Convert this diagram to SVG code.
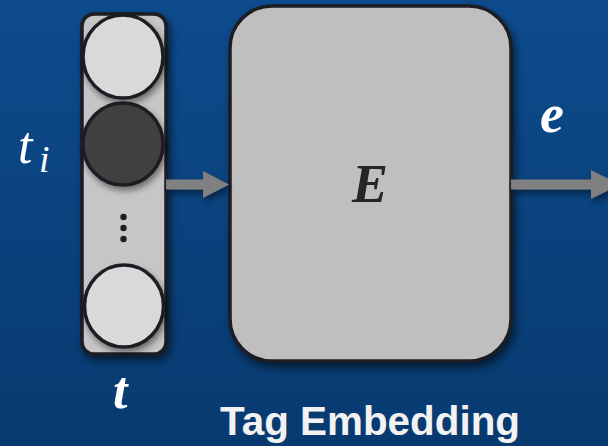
<svg xmlns="http://www.w3.org/2000/svg" width="608" height="446" viewBox="0 0 608 446">
  <defs>
    <linearGradient id="bg" x1="0" y1="0" x2="0" y2="1">
      <stop offset="0" stop-color="#0d4b8d"/>
      <stop offset="1" stop-color="#083a6f"/>
    </linearGradient>
    <filter id="shadow" x="-20%" y="-20%" width="150%" height="150%">
      <feDropShadow dx="3" dy="5" stdDeviation="4" flood-color="#000" flood-opacity="0.55"/>
    </filter>
    <filter id="soft" x="-20%" y="-20%" width="150%" height="150%">
      <feDropShadow dx="2" dy="4" stdDeviation="3" flood-color="#000" flood-opacity="0.45"/>
    </filter>
  </defs>
  <style>
    .frame { stroke: #1b1d24; stroke-width: 3.5; }
    .cell { stroke: #1b1d24; stroke-width: 3.5; }
    .light { fill: #d9d9d9; }
    .dark { fill: #404040; }
    .conn { fill: #808080; }
    .math { font-family: "Liberation Serif", "DejaVu Serif", serif; font-style: italic; fill: #ffffff; }
    .caption { font-family: "Liberation Sans", Arial, sans-serif; font-weight: bold; fill: #f2f2f2; }
  </style>

  <rect x="0" y="0" width="608" height="446" fill="url(#bg)"/>

  <!-- tag vector t -->
  <g id="tag-vector">
    <rect class="frame" x="82" y="14" width="84" height="340" rx="12" fill="#c6c6c6" filter="url(#shadow)"/>
    <ellipse class="cell light" cx="123" cy="56.5" rx="40" ry="41.5" filter="url(#soft)"/>
    <ellipse class="cell dark" cx="123" cy="144" rx="40" ry="41" filter="url(#soft)"/>
    <circle cx="123.5" cy="217" r="3.2" fill="#1b1d24"/>
    <circle cx="123.5" cy="228" r="3.2" fill="#1b1d24"/>
    <circle cx="123.5" cy="239" r="3.2" fill="#1b1d24"/>
    <ellipse class="cell light" cx="124" cy="306" rx="39.5" ry="41" filter="url(#soft)"/>
  </g>

  <!-- embedding matrix E -->
  <g id="embedding">
    <rect class="frame" x="230" y="6" width="281" height="355" rx="42" fill="#bfbfbf" filter="url(#shadow)"/>
    <text x="370" y="202" text-anchor="middle" font-family="Liberation Serif, DejaVu Serif, serif" font-style="italic" font-weight="bold" font-size="54" fill="#262626">E</text>
  </g>

  <!-- connectors -->
  <g id="connectors" filter="url(#soft)">
    <path class="conn" d="M166 179.5 H203 V171 L229 184.5 L203 198 V189.5 H166 Z"/>
    <path class="conn" d="M511 179.5 H591 V170 L620 184.5 L591 199 V189.5 H511 Z"/>
  </g>

  <!-- labels -->
  <g id="label-ti">
    <text class="math" x="18" y="163" font-size="52">t</text>
    <text class="math" x="39" y="172" font-size="38">i</text>
  </g>
  <g id="label-t">
    <text class="math" x="113" y="408" font-size="52" font-weight="bold">t</text>
  </g>
  <g id="label-e">
    <text class="math" x="540" y="132" font-size="54" font-weight="bold">e</text>
  </g>
  <g id="caption">
    <text class="caption" x="220" y="435" font-size="40" textLength="300" lengthAdjust="spacingAndGlyphs">Tag Embedding</text>
  </g>
</svg>
